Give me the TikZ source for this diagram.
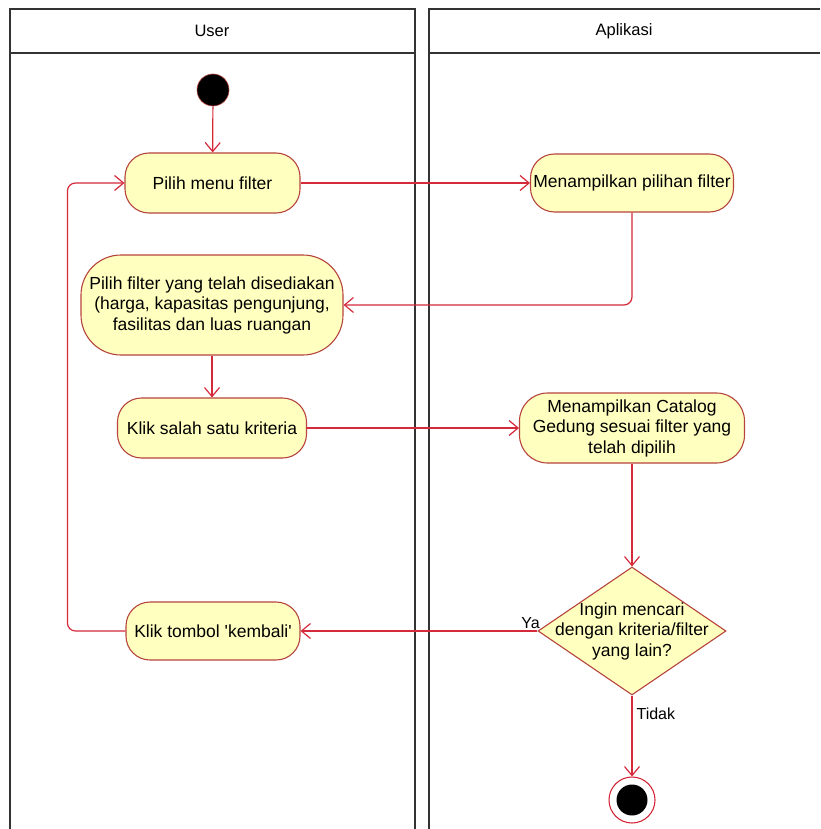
\documentclass[tikz,border=0pt]{standalone}
\usepackage{fontspec}
\setmainfont{Liberation Sans}
\usetikzlibrary{shapes.geometric, arrows.meta}

\definecolor{actfill}{HTML}{FFFFC0}
\definecolor{actline}{HTML}{B5443C}
\definecolor{flowred}{HTML}{D42A3A}

\begin{document}
\begin{tikzpicture}[
    x=1pt, y=-1pt,
    lane/.style={draw=black!80, line width=1.3pt},
    lane_title/.style={font=\fontsize{16.5}{19}\selectfont},
    action/.style={draw=actline, fill=actfill, line width=1.1pt, rounded corners=24pt,
        align=center, inner sep=0pt, font=\fontsize{17.5}{20.5}\selectfont},
    decision/.style={diamond, draw=actline, fill=actfill, line width=1.1pt, inner sep=0pt,
        minimum width=188pt, minimum height=128pt},
    start_node/.style={circle, fill=black, draw=actline, line width=0.6pt, minimum size=32pt, inner sep=0pt},
    end_ring/.style={circle, fill=white, draw=flowred, line width=1.1pt, minimum size=46pt, inner sep=0pt},
    end_dot/.style={circle, fill=black, minimum size=31pt, inner sep=0pt},
    flow/.style={draw=flowred, line width=1.2pt, -{Straight Barb[length=9pt, width=15pt]}},
    guard/.style={font=\fontsize{16}{19}\selectfont, inner sep=1pt}
]
    \useasboundingbox (0,0) rectangle (820,829);
    % Swimlanes
    \draw[lane] (10,829) -- (10,9) -- (415,9) -- (415,829);
    \draw[lane] (10,53) -- (415,53);
    \draw[lane] (820,9) -- (429,9) -- (429,829);
    \draw[lane] (429,53) -- (820,53);
    \node[lane_title] (user) at (212,31) {User};
    \node[lane_title] (app) at (624,31) {Aplikasi};
    % Aksi
    \node[start_node] (start) at (213,90) {};
    \node[action, minimum width=175pt, minimum height=60pt] (menu) at (212.5,183) {Pilih menu filter};
    \node[action, minimum width=203pt, minimum height=58pt] (tampil) at (632,183) {Menampilkan pilihan filter};
    \node[action, minimum width=262pt, minimum height=100pt, rounded corners=40pt] (pilih) at (212,305)
        {Pilih filter yang telah disediakan\\(harga, kapasitas pengunjung,\\fasilitas dan luas ruangan};
    \node[action, minimum width=189pt, minimum height=60pt] (klik) at (212,428) {Klik salah satu kriteria};
    \node[action, minimum width=225pt, minimum height=70pt, rounded corners=28pt] (catalog) at (632,428)
        {Menampilkan Catalog\\Gedung sesuai filter yang\\telah dipilih};
    \node[decision, label={[align=center, font=\fontsize{17.5}{20.5}\selectfont]center:{Ingin mencari\\dengan kriteria/filter\\yang lain?}}] (dec) at (632,631) {};
    \node[action, minimum width=174pt, minimum height=58pt] (kembali) at (213,631)
        {Klik tombol \textquotesingle kembali\textquotesingle};
    \node[end_ring] (finish) at (632,800) {};
    \node[end_dot] (finish_dot) at (finish) {};
    % Alur
    \draw[flow] (start) -- (menu);
    \draw[flow] (menu) -- (tampil);
    \draw[flow, rounded corners=8pt] (tampil) |- (pilih);
    \draw[flow] (pilih) -- (klik);
    \draw[flow] (klik) -- (catalog);
    \draw[flow] (catalog) -- (dec);
    \draw[flow] (dec.west) -- node[guard, pos=0, anchor=south east, xshift=4pt, yshift=1pt] {Ya} (kembali);
    \draw[flow, rounded corners=8pt] (kembali.west) -- ++(-58,0) |- (menu.west);
    \draw[flow] (dec.south) -- node[guard, pos=0.22, anchor=west, xshift=3pt] {Tidak} (finish);
\end{tikzpicture}
\end{document}
